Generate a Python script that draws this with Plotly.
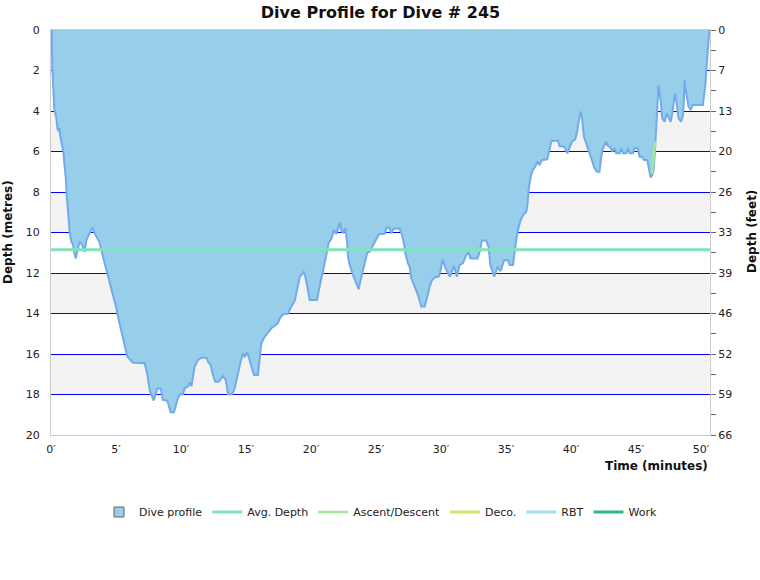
import plotly.graph_objects as go

# ---- data ----
time_min = [0.0, 0.05, 0.1, 0.2, 0.25, 0.4, 0.5, 0.6, 0.65, 0.7, 0.85, 0.95, 1.0, 1.1, 1.15, 1.2, 1.3, 1.36,
            1.44, 1.56, 1.7, 1.77, 1.9, 2.02, 2.2, 2.38, 2.59, 2.72, 2.97, 3.18, 3.49, 3.74, 4.0, 4.26, 4.5,
            4.77, 5.03, 5.2, 5.46, 5.67, 5.87, 6.3, 7.2, 7.4, 7.59, 7.9, 8.18, 8.44, 8.6, 8.95, 9.2, 9.46,
            9.72, 9.9, 10.15, 10.28, 10.54, 10.67, 10.8, 10.92, 11.05, 11.3, 11.56, 11.95, 12.13, 12.28,
            12.46, 12.64, 12.9, 13.23, 13.44, 13.62, 13.92, 14.13, 14.38, 14.56, 14.77, 14.9, 15.1, 15.28,
            15.46, 15.62, 15.92, 16.05, 16.18, 16.44, 16.69, 16.95, 17.2, 17.46, 17.6, 17.85, 18.23, 18.48,
            18.75, 18.87, 19.0, 19.13, 19.44, 19.6, 19.77, 19.9, 20.46, 20.59, 20.74, 20.92, 21.1, 21.26,
            21.36, 21.56, 21.77, 21.95, 22.13, 22.23, 22.33, 22.46, 22.64, 22.79, 22.85, 22.98, 23.23,
            23.48, 23.67, 23.82, 24.0, 24.18, 24.33, 24.52, 24.77, 25.03, 25.23, 25.67, 25.8, 26.05, 26.18,
            26.38, 26.82, 27.0, 27.15, 27.26, 27.46, 27.59, 27.72, 27.98, 28.23, 28.49, 28.75, 28.95, 29.13,
            29.31, 29.56, 29.82, 29.98, 30.13, 30.3, 30.41, 30.7, 31.0, 31.22, 31.44, 31.69, 31.95, 32.13,
            32.28, 32.82, 32.98, 33.15, 33.48, 33.67, 33.8, 34.1, 34.35, 34.6, 34.85, 35.15, 35.28, 35.54,
            35.67, 35.79, 35.92, 36.13, 36.38, 36.56, 36.64, 36.75, 36.9, 37.08, 37.25, 37.41, 37.59, 37.77,
            38.18, 38.36, 38.49, 38.62, 39.0, 39.13, 39.51, 39.72, 39.9, 40.08, 40.33, 40.48, 40.59, 40.75,
            40.87, 41.0, 41.18, 41.44, 41.62, 41.82, 42.0, 42.2, 42.33, 42.46, 42.72, 42.85, 43.05, 43.18,
            43.36, 43.48, 43.75, 43.87, 44.0, 44.26, 44.38, 44.51, 44.77, 44.9, 45.15, 45.28, 45.46, 45.62,
            45.87, 45.98, 46.13, 46.25, 46.36, 46.44, 46.52, 46.56, 46.69, 46.74, 46.82, 46.9, 47.02, 47.21,
            47.38, 47.54, 47.67, 47.8, 47.92, 48.0, 48.1, 48.28, 48.48, 48.62, 48.69, 48.75, 48.79, 48.92,
            49.05, 49.21, 49.38, 50.15, 50.28, 50.36, 50.41, 50.48, 50.58, 50.65]
depth_m = [0.0, 0.0, 1.8, 3.0, 3.9, 4.3, 4.9, 5.0, 4.85, 5.2, 5.6, 6.0, 6.4, 6.9, 7.4, 8.1, 9.0, 9.4,
           10.0, 10.45, 10.6, 10.95, 11.28, 10.95, 10.45, 10.6, 10.95, 10.37, 10.04, 9.76, 10.2, 10.5, 11.2,
           11.85, 12.35, 13.17, 13.74, 14.3, 14.98, 15.47, 16.13, 16.43, 16.46, 16.95, 17.78, 18.3, 17.7,
           17.7, 18.27, 18.3, 18.88, 18.88, 18.27, 18.0, 17.98, 17.7, 17.6, 17.42, 17.6, 17.12, 16.63, 16.3,
           16.18, 16.18, 16.43, 16.54, 17.04, 17.37, 17.37, 17.09, 17.28, 17.99, 17.99, 17.7, 16.87, 16.46,
           15.97, 16.13, 15.93, 16.3, 16.63, 17.04, 17.04, 16.3, 15.47, 15.15, 14.95, 14.73, 14.62, 14.48,
           14.24, 14.04, 14.02, 13.66, 13.38, 13.0, 12.5, 12.21, 11.93, 12.26, 12.84, 13.33, 13.33, 12.84,
           12.43, 11.93, 11.44, 10.86, 10.5, 10.34, 9.88, 10.07, 9.71, 9.51, 9.88, 10.04, 9.8, 10.53, 11.2,
           11.6, 12.1, 12.51, 12.8, 12.35, 11.85, 11.44, 11.0, 10.95, 10.62, 10.29, 10.09, 10.07, 9.76, 9.76,
           10.04, 9.8, 9.8, 10.12, 10.53, 11.03, 11.52, 11.69, 12.26, 12.67, 13.09, 13.66, 13.66, 13.17,
           12.67, 12.35, 12.21, 12.18, 11.85, 11.36, 11.69, 11.85, 12.18, 11.65, 12.18, 11.6, 11.52, 11.11,
           11.0, 11.28, 11.28, 10.95, 10.4, 10.4, 10.73, 11.6, 12.18, 11.72, 11.9, 11.38, 11.36, 11.6, 11.6,
           10.78, 10.37, 9.88, 9.38, 9.09, 8.97, 8.72, 7.9, 7.24, 6.91, 6.75, 6.5, 6.67, 6.42, 6.39, 5.93,
           5.51, 5.47, 5.47, 5.73, 5.76, 6.09, 5.76, 5.51, 5.4, 5.02, 4.53, 4.03, 4.44, 5.27, 5.6, 6.09, 6.42,
           6.83, 7.0, 7.0, 6.26, 5.84, 5.51, 5.73, 5.79, 6.01, 5.84, 6.09, 6.09, 5.84, 6.09, 6.09, 5.84, 6.09,
           6.09, 5.84, 5.84, 6.26, 6.26, 6.42, 6.42, 6.75, 7.28, 7.16, 6.91, 6.26, 5.27, 4.44, 3.13, 2.72,
           3.13, 3.46, 4.36, 4.53, 4.12, 4.36, 4.53, 4.12, 3.29, 3.13, 3.46, 4.36, 4.53, 4.2, 3.46, 2.47, 2.8,
           3.29, 3.79, 3.95, 3.7, 3.7, 3.05, 2.63, 1.98, 1.48, 0.82, 0.0]

avg_depth_m = 10.85
ascent_time = [46.22, 46.34, 46.47]
ascent_depth = [7.1, 6.5, 5.5]

x_tickvals = [0, 5, 10, 15, 20, 25, 30, 35, 40, 45, 50]
x_ticktext = ["0′", "5′", "10′", "15′", "20′", "25′", "30′", "35′", "40′", "45′", "50′"]
y_tickvals = [0, 2, 4, 6, 8, 10, 12, 14, 16, 18, 20]
feet_ticktext = ["0", "7", "13", "20", "26", "33", "39", "46", "52", "59", "66"]
feet_minor = [1, 3, 5, 7, 9, 11, 13, 15, 17, 19]
band_starts = [0, 4, 8, 12, 16]

legend_names = ["Avg. Depth", "Ascent/Descent", "Deco.", "RBT", "Work"]
legend_colors = ["#7fe3bd", "#a2e898", "#d6df6e", "#a8dcf2", "#2fb88c"]

FONT = "DejaVu Sans, Verdana, sans-serif"
x_max = time_min[-1] + 0.05

fig = go.Figure()

# Dive profile area
fig.add_trace(go.Scatter(
    x=time_min, y=depth_m, mode="lines", fill="tozeroy",
    fillcolor="#97cee9", line=dict(color="#72aaec", width=2),
    showlegend=False, hoverinfo="skip"))

# legend marker for dive profile
fig.add_trace(go.Scatter(
    x=[None], y=[None], mode="markers", name="Dive profile",
    marker=dict(symbol="square", size=10, color="#97cee9",
                line=dict(color="#666666", width=1))))

# Avg depth
fig.add_trace(go.Scatter(
    x=[0, x_max], y=[avg_depth_m, avg_depth_m], mode="lines",
    name=legend_names[0], line=dict(color=legend_colors[0], width=3), hoverinfo="skip"))

# Ascent/descent
fig.add_trace(go.Scatter(
    x=ascent_time, y=ascent_depth, mode="lines",
    name=legend_names[1], line=dict(color=legend_colors[1], width=2.5), hoverinfo="skip"))

for nm, col in zip(legend_names[2:], legend_colors[2:]):
    fig.add_trace(go.Scatter(x=[None], y=[None], mode="lines", name=nm,
                             line=dict(color=col, width=3)))

# invisible trace on right axis
fig.add_trace(go.Scatter(x=[None], y=[None], yaxis="y2", showlegend=False, hoverinfo="skip"))

shapes = []
for b in band_starts:
    shapes.append(dict(type="rect", xref="paper", x0=0, x1=1, yref="y", y0=b, y1=b + 2,
                       fillcolor="#f3f3f3", line=dict(width=0), layer="below"))

fig.update_layout(
    width=760, height=580,
    margin=dict(l=51, r=50, t=30, b=145),
    paper_bgcolor="white", plot_bgcolor="white",
    font=dict(family=FONT, size=11, color="#222"),
    title=dict(text="<b>Dive Profile for Dive # 245</b>", x=0.5, xref="paper",
               y=1 - 12 / 580, yref="container", yanchor="middle",
               font=dict(family=FONT, size=16, color="#111")),
    shapes=shapes,
    xaxis=dict(range=[0, x_max], tickmode="array", tickvals=x_tickvals, ticktext=x_ticktext,
               showgrid=False, zeroline=False, showline=True, linecolor="#cccccc", mirror=True,
               ticks="outside", ticklen=4, tickcolor="rgba(0,0,0,0)",
               tickfont=dict(size=11, color="#222")),
    yaxis=dict(range=[20, 0], tickmode="array", tickvals=y_tickvals,
               showgrid=True, gridcolor="#0000ff", gridwidth=1, zeroline=False,
               showline=True, linecolor="#cccccc",
               ticks="outside", ticklen=8, tickcolor="rgba(0,0,0,0)",
               tickfont=dict(size=11, color="#222")),
    yaxis2=dict(range=[20, 0], overlaying="y", side="right", tickmode="array",
                tickvals=y_tickvals, ticktext=feet_ticktext, showgrid=False, zeroline=False,
                showline=True, linecolor="#cccccc",
                ticks="outside", ticklen=5, tickcolor="#666666",
                minor=dict(tickmode="array", tickvals=feet_minor, ticks="outside", ticklen=5,
                           tickcolor="#666666", showgrid=False),
                tickfont=dict(size=11, color="#222")),
    legend=dict(orientation="h", x=0.5, xanchor="center", y=-(512 - 435) / 405,
                yanchor="middle", font=dict(family=FONT, size=11, color="#222"),
                bgcolor="rgba(0,0,0,0)"),
    annotations=[
        dict(text="<b>Time (minutes)</b>", xref="paper", yref="paper", x=1, xanchor="right",
             y=-(466 - 435) / 405, yanchor="middle", showarrow=False,
             font=dict(family=FONT, size=12, color="#111")),
        dict(text="<b>Depth (metres)</b>", xref="paper", yref="paper", x=(8 - 51) / 659,
             xanchor="center", y=1 - (232 - 30) / 405, yanchor="middle", textangle=-90,
             showarrow=False, font=dict(family=FONT, size=12, color="#111")),
        dict(text="<b>Depth (feet)</b>", xref="paper", yref="paper", x=(752 - 51) / 659,
             xanchor="center", y=1 - (232 - 30) / 405, yanchor="middle", textangle=-90,
             showarrow=False, font=dict(family=FONT, size=12, color="#111")),
    ],
)

fig.write_html("out.html")
